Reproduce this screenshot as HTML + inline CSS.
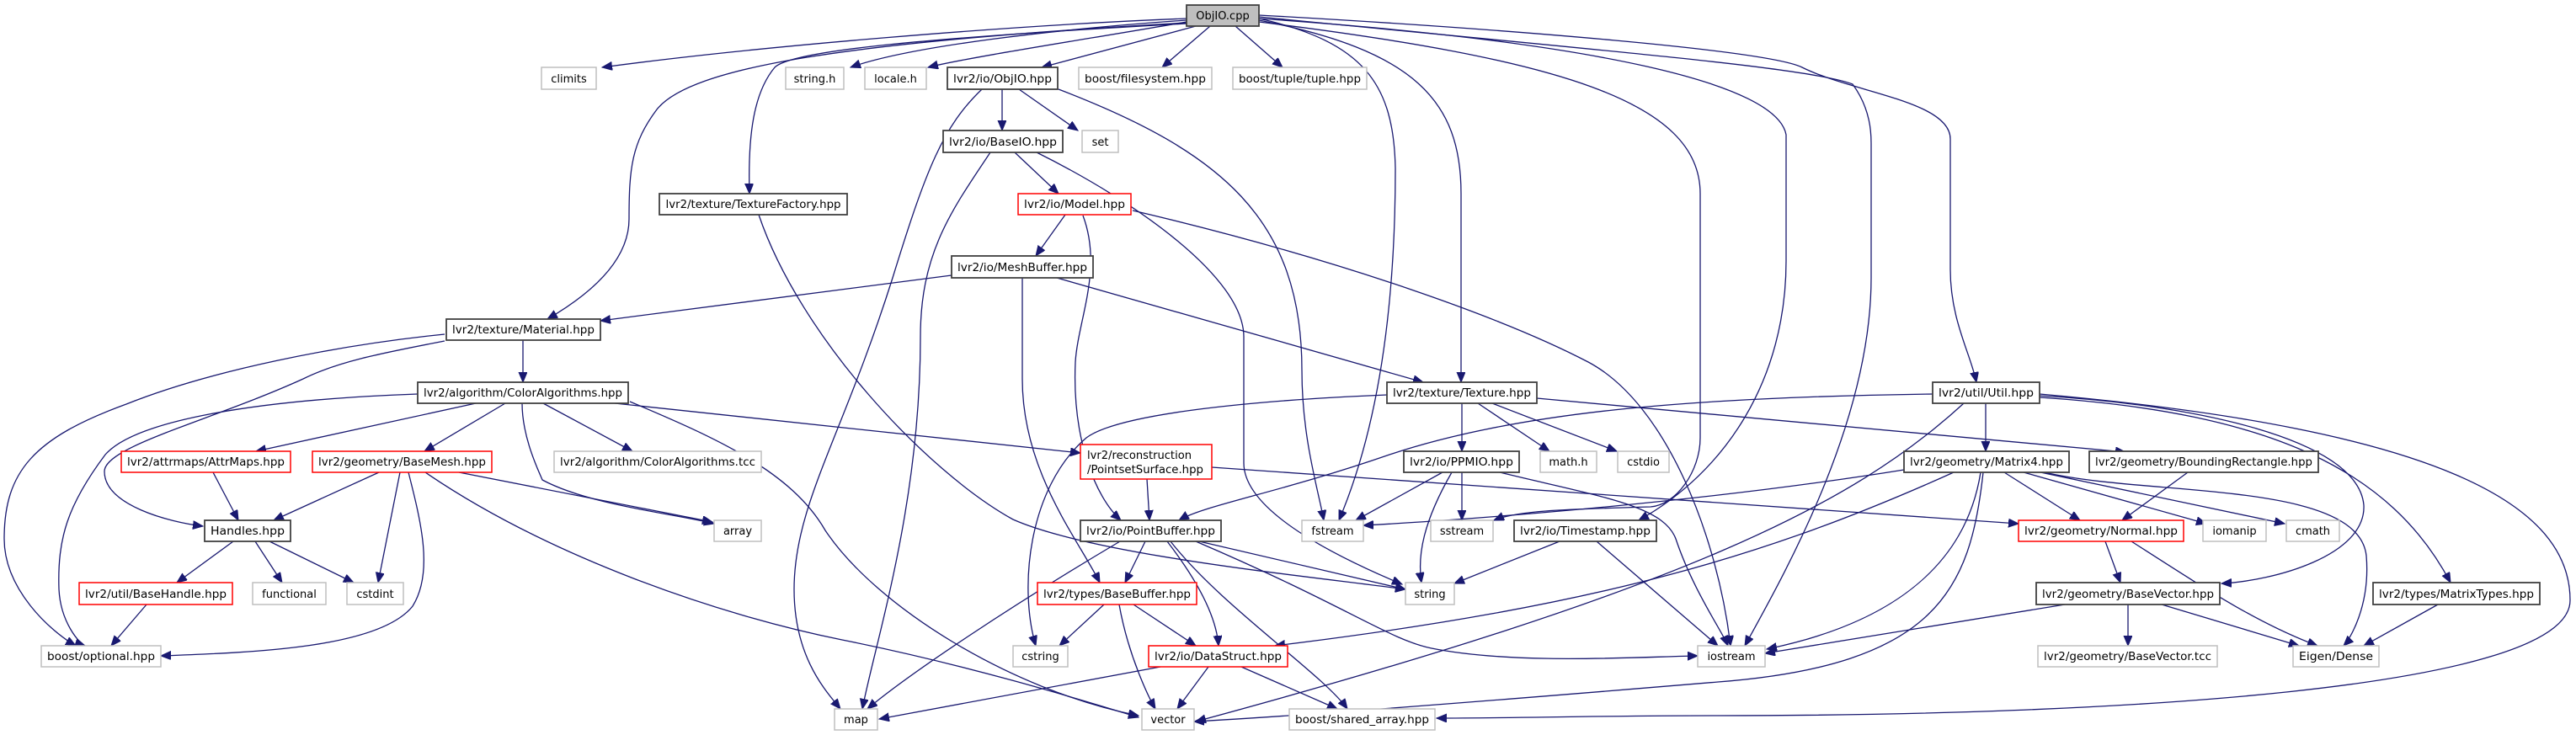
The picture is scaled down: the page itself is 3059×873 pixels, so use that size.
<!DOCTYPE html>
<html><head><meta charset="utf-8"><style>
html,body{margin:0;padding:0;background:#fff;}
svg{display:block;}
text{font-family:"DejaVu Sans","Liberation Sans",sans-serif;font-size:13px;fill:#000;}
.e{fill:none;stroke:#191970;stroke-width:1.3;marker-end:url(#a);}
.g{fill:#fff;stroke:#bfbfbf;stroke-width:1.5;}
.b{fill:#fff;stroke:#404040;stroke-width:1.8;}
.r{fill:#fff;stroke:#ff0000;stroke-width:1.5;}
</style></head><body>
<svg width="3059" height="873" viewBox="0 0 3059 873" xmlns="http://www.w3.org/2000/svg">
<defs><marker id="a" markerUnits="userSpaceOnUse" markerWidth="14" markerHeight="12" refX="12" refY="5" orient="auto"><path d="M0,0 L12,5 L0,10 z" fill="#191970" stroke="#191970"/></marker></defs>
<g>
<path class="e" d="M1409,22 C1200,30 900,55 715,80"/>
<path class="e" d="M1409,24 C1250,35 1080,55 1010,80"/>
<path class="e" d="M1409,26 C1300,45 1150,68 1102,80"/>
<path class="e" d="M1420,31 L1237,80"/>
<path class="e" d="M1437,31 L1380,80"/>
<path class="e" d="M1467,31 L1523,80"/>
<path class="e" d="M1409,28 C1100,45 940,60 920,80 C895,110 888,160 890,230"/>
<path class="e" d="M1409,27 C1000,50 820,80 780,130 C750,170 747,200 747,260 C747,310 700,350 650,379"/>
<path class="e" d="M1495,22 C1620,50 1655,100 1657,200 C1657,350 1640,500 1590,618"/>
<path class="e" d="M1495,24 C1680,60 1735,120 1735,230 L1735,454"/>
<path class="e" d="M1495,26 C1850,70 2019,120 2019,230 L2019,520 C2019,560 1990,600 1960,602 C1850,605 1800,607 1774,618"/>
<path class="e" d="M1495,22 C1900,50 2110,100 2121,160 L2121,310 C2121,450 2050,560 1946,618"/>
<path class="e" d="M1495,20 C1900,60 2150,80 2200,100 C2222,130 2222,160 2222,170 L2222,330 C2222,500 2120,680 2072,767"/>
<path class="e" d="M1495,18 C1800,35 2100,60 2140,80 C2200,110 2316,120 2316,165 L2316,320 C2316,380 2340,420 2347,454"/>
<path class="e" d="M1190,106 L1190,155"/>
<path class="e" d="M1210,106 L1280,155"/>
<path class="e" d="M1166,106 C1120,150 1100,200 1060,330 C1000,520 943,600 943,700 C943,780 980,820 998,842"/>
<path class="e" d="M1257,106 C1450,180 1546,260 1546,440 C1546,520 1565,580 1572,618"/>
<path class="e" d="M1205,181 L1257,230"/>
<path class="e" d="M1176,181 C1130,250 1093,300 1093,400 C1093,600 1040,760 1024,842"/>
<path class="e" d="M1231,181 C1350,240 1477,330 1477,400 L1477,550 C1477,600 1560,650 1665,694"/>
<path class="e" d="M901,255 C950,400 1100,560 1203,617 C1300,660 1560,685 1669,700"/>
<path class="e" d="M1265,255 L1230,304"/>
<path class="e" d="M1286,256 C1310,320 1280,380 1277,430 C1273,520 1300,590 1331,618"/>
<path class="e" d="M1345,250 C1600,310 1790,380 1886,430 C1980,480 2040,640 2055,767"/>
<path class="e" d="M1130,327 L713,381"/>
<path class="e" d="M1255,330 L1690,454"/>
<path class="e" d="M1214,330 L1214,450 C1214,560 1280,640 1306,692"/>
<path class="e" d="M621,404 L621,454"/>
<path class="e" d="M528,405 C450,420 400,430 360,450 C250,500 124,530 124,560 C124,600 200,620 241,625"/>
<path class="e" d="M528,397 C400,410 250,440 150,480 C40,520 5,560 5,640 C5,700 60,750 90,767"/>
<path class="e" d="M565,479 L304,536"/>
<path class="e" d="M600,479 L504,536"/>
<path class="e" d="M645,479 L751,536"/>
<path class="e" d="M620,479 C620,520 640,560 644,570 C700,600 800,610 848,622"/>
<path class="e" d="M496,468 C300,475 160,500 125,540 C80,600 68,640 70,700 C72,740 95,765 101,767"/>
<path class="e" d="M748,477 C850,520 940,560 980,630 C1040,720 1200,820 1352,850"/>
<path class="e" d="M730,479 L1283,538"/>
<path class="e" d="M253,561 L283,618"/>
<path class="e" d="M450,561 L325,618"/>
<path class="e" d="M475,561 L449,692"/>
<path class="e" d="M485,561 C500,620 515,680 490,720 C450,770 300,775 191,779"/>
<path class="e" d="M545,561 L846,620"/>
<path class="e" d="M505,561 C650,660 850,730 1000,760 C1150,790 1280,830 1352,852"/>
<path class="e" d="M277,643 L210,692"/>
<path class="e" d="M303,643 L335,692"/>
<path class="e" d="M320,643 L420,692"/>
<path class="e" d="M174,718 L132,767"/>
<path class="e" d="M1736,479 L1736,536"/>
<path class="e" d="M1755,479 L1840,536"/>
<path class="e" d="M1772,479 L1920,536"/>
<path class="e" d="M1647,469 C1500,475 1330,490 1290,520 C1220,580 1210,700 1230,767"/>
<path class="e" d="M1825,473 L2524,537"/>
<path class="e" d="M1362,569 L1365,618"/>
<path class="e" d="M1439,555 L2397,622"/>
<path class="e" d="M1713,561 L1610,618"/>
<path class="e" d="M1724,561 C1690,620 1683,660 1688,692"/>
<path class="e" d="M1736,561 L1736,618"/>
<path class="e" d="M1781,561 C1900,590 1975,600 1990,640 C2010,700 2045,750 2052,767"/>
<path class="e" d="M1852,643 L1727,693"/>
<path class="e" d="M1896,643 L2040,767"/>
<path class="e" d="M1330,643 C1200,720 1080,800 1030,842"/>
<path class="e" d="M1360,643 L1336,692"/>
<path class="e" d="M1386,643 C1430,700 1445,740 1447,767"/>
<path class="e" d="M1390,643 C1450,720 1570,800 1600,842"/>
<path class="e" d="M1424,643 L1669,700"/>
<path class="e" d="M1420,643 C1600,720 1650,760 1700,770 C1800,790 1950,780 2016,779"/>
<path class="e" d="M1311,718 L1258,767"/>
<path class="e" d="M1329,718 C1340,780 1365,830 1372,842"/>
<path class="e" d="M1346,718 L1420,767"/>
<path class="e" d="M1378,792 L1044,854"/>
<path class="e" d="M1435,792 L1398,842"/>
<path class="e" d="M1474,792 L1588,842"/>
<path class="e" d="M2358,479 L2358,536"/>
<path class="e" d="M2295,468 C2000,472 1800,490 1650,540 C1520,585 1430,600 1400,618"/>
<path class="e" d="M2332,479 C2200,600 2000,700 1420,857"/>
<path class="e" d="M2422,470 C2600,480 2800,520 2807,600 C2810,660 2700,690 2638,693"/>
<path class="e" d="M2422,472 C2700,490 2840,560 2910,692"/>
<path class="e" d="M2422,468 C2900,510 3052,600 3052,713 C3052,820 2500,850 2040,850 C1900,850 1800,853 1706,853"/>
<path class="e" d="M2380,561 L2470,618"/>
<path class="e" d="M2403,561 L2620,622"/>
<path class="e" d="M2423,561 L2713,622"/>
<path class="e" d="M2428,561 C2550,590 2800,570 2810,660 C2815,720 2790,760 2783,767"/>
<path class="e" d="M2352,561 C2330,700 2200,750 2098,771"/>
<path class="e" d="M2355,561 C2340,700 2300,790 2040,810 C1800,830 1550,850 1418,857"/>
<path class="e" d="M2261,558 C2000,600 1700,620 1619,624"/>
<path class="e" d="M2320,561 C2100,660 1900,720 1514,767"/>
<path class="e" d="M2598,561 L2520,618"/>
<path class="e" d="M2500,643 L2518,692"/>
<path class="e" d="M2531,643 C2620,700 2680,740 2752,767"/>
<path class="e" d="M2452,718 L2096,776"/>
<path class="e" d="M2527,718 L2527,767"/>
<path class="e" d="M2567,718 L2730,767"/>
<path class="e" d="M2895,718 L2807,767"/>
</g>
<g>
<rect x="1409" y="6" width="86" height="25" fill="#bfbfbf" stroke="#404040" stroke-width="1.8"/><text x="1452" y="23" text-anchor="middle">ObjIO.cpp</text>
<rect class="g" x="643" y="80" width="65" height="26"/><text x="675.5" y="98" text-anchor="middle">climits</text>
<rect class="g" x="933" y="80" width="69" height="26"/><text x="967.5" y="98" text-anchor="middle">string.h</text>
<rect class="g" x="1027" y="80" width="73" height="26"/><text x="1063.5" y="98" text-anchor="middle">locale.h</text>
<rect class="b" x="1125" y="80" width="131" height="26"/><text x="1190.5" y="98" text-anchor="middle" textLength="117" lengthAdjust="spacingAndGlyphs">lvr2/io/ObjIO.hpp</text>
<rect class="g" x="1281" y="80" width="158" height="26"/><text x="1360" y="98" text-anchor="middle" textLength="144" lengthAdjust="spacingAndGlyphs">boost/filesystem.hpp</text>
<rect class="g" x="1464" y="80" width="159" height="26"/><text x="1543.5" y="98" text-anchor="middle" textLength="145" lengthAdjust="spacingAndGlyphs">boost/tuple/tuple.hpp</text>
<rect class="b" x="1120" y="155" width="142" height="26"/><text x="1191" y="173" text-anchor="middle" textLength="128" lengthAdjust="spacingAndGlyphs">lvr2/io/BaseIO.hpp</text>
<rect class="g" x="1285" y="155" width="43" height="26"/><text x="1306.5" y="173" text-anchor="middle">set</text>
<rect class="b" x="783" y="230" width="223" height="25"/><text x="894.5" y="247" text-anchor="middle" textLength="208" lengthAdjust="spacingAndGlyphs">lvr2/texture/TextureFactory.hpp</text>
<rect class="r" x="1209" y="230" width="134" height="25"/><text x="1276" y="247" text-anchor="middle" textLength="120" lengthAdjust="spacingAndGlyphs">lvr2/io/Model.hpp</text>
<rect class="b" x="1130" y="304" width="168" height="26"/><text x="1214" y="322" text-anchor="middle" textLength="154" lengthAdjust="spacingAndGlyphs">lvr2/io/MeshBuffer.hpp</text>
<rect class="b" x="530" y="379" width="183" height="25"/><text x="621.5" y="396" text-anchor="middle" textLength="169" lengthAdjust="spacingAndGlyphs">lvr2/texture/Material.hpp</text>
<rect class="b" x="496" y="454" width="250" height="25"/><text x="621" y="471" text-anchor="middle" textLength="236" lengthAdjust="spacingAndGlyphs">lvr2/algorithm/ColorAlgorithms.hpp</text>
<rect class="b" x="1647" y="454" width="178" height="25"/><text x="1736" y="471" text-anchor="middle" textLength="164" lengthAdjust="spacingAndGlyphs">lvr2/texture/Texture.hpp</text>
<rect class="b" x="2295" y="454" width="127" height="25"/><text x="2358.5" y="471" text-anchor="middle" textLength="113" lengthAdjust="spacingAndGlyphs">lvr2/util/Util.hpp</text>
<rect class="r" x="144" y="536" width="201" height="25"/><text x="244.5" y="553" text-anchor="middle" textLength="187" lengthAdjust="spacingAndGlyphs">lvr2/attrmaps/AttrMaps.hpp</text>
<rect class="r" x="371" y="536" width="213" height="25"/><text x="477.5" y="553" text-anchor="middle" textLength="199" lengthAdjust="spacingAndGlyphs">lvr2/geometry/BaseMesh.hpp</text>
<rect class="g" x="658" y="536" width="246" height="25"/><text x="781" y="553" text-anchor="middle" textLength="232" lengthAdjust="spacingAndGlyphs">lvr2/algorithm/ColorAlgorithms.tcc</text>
<rect class="r" x="1283" y="528" width="156" height="41"/><text x="1291" y="545" textLength="124" lengthAdjust="spacingAndGlyphs">lvr2/reconstruction</text><text x="1291" y="562" textLength="138" lengthAdjust="spacingAndGlyphs">/PointsetSurface.hpp</text>
<rect class="b" x="1667" y="536" width="137" height="25"/><text x="1735.5" y="553" text-anchor="middle" textLength="123" lengthAdjust="spacingAndGlyphs">lvr2/io/PPMIO.hpp</text>
<rect class="g" x="1829" y="536" width="67" height="25"/><text x="1862.5" y="553" text-anchor="middle">math.h</text>
<rect class="g" x="1921" y="536" width="61" height="25"/><text x="1951.5" y="553" text-anchor="middle">cstdio</text>
<rect class="b" x="2261" y="536" width="196" height="25"/><text x="2359" y="553" text-anchor="middle" textLength="182" lengthAdjust="spacingAndGlyphs">lvr2/geometry/Matrix4.hpp</text>
<rect class="b" x="2481" y="536" width="272" height="25"/><text x="2617" y="553" text-anchor="middle" textLength="258" lengthAdjust="spacingAndGlyphs">lvr2/geometry/BoundingRectangle.hpp</text>
<rect class="b" x="243" y="618" width="102" height="25"/><text x="294" y="635" text-anchor="middle" textLength="88" lengthAdjust="spacingAndGlyphs">Handles.hpp</text>
<rect class="g" x="848" y="618" width="56" height="25"/><text x="876" y="635" text-anchor="middle">array</text>
<rect class="b" x="1283" y="618" width="167" height="25"/><text x="1366.5" y="635" text-anchor="middle" textLength="153" lengthAdjust="spacingAndGlyphs">lvr2/io/PointBuffer.hpp</text>
<rect class="g" x="1546" y="618" width="73" height="25"/><text x="1582.5" y="635" text-anchor="middle">fstream</text>
<rect class="g" x="1699" y="618" width="74" height="25"/><text x="1736" y="635" text-anchor="middle">sstream</text>
<rect class="b" x="1798" y="618" width="169" height="25"/><text x="1882.5" y="635" text-anchor="middle" textLength="155" lengthAdjust="spacingAndGlyphs">lvr2/io/Timestamp.hpp</text>
<rect class="r" x="2397" y="618" width="196" height="25"/><text x="2495" y="635" text-anchor="middle" textLength="182" lengthAdjust="spacingAndGlyphs">lvr2/geometry/Normal.hpp</text>
<rect class="g" x="2616" y="618" width="75" height="25"/><text x="2653.5" y="635" text-anchor="middle">iomanip</text>
<rect class="g" x="2715" y="618" width="63" height="25"/><text x="2746.5" y="635" text-anchor="middle">cmath</text>
<rect class="r" x="94" y="692" width="182" height="26"/><text x="185" y="710" text-anchor="middle" textLength="168" lengthAdjust="spacingAndGlyphs">lvr2/util/BaseHandle.hpp</text>
<rect class="g" x="300" y="692" width="87" height="26"/><text x="343.5" y="710" text-anchor="middle">functional</text>
<rect class="g" x="412" y="692" width="67" height="26"/><text x="445.5" y="710" text-anchor="middle">cstdint</text>
<rect class="r" x="1232" y="692" width="189" height="26"/><text x="1326.5" y="710" text-anchor="middle" textLength="175" lengthAdjust="spacingAndGlyphs">lvr2/types/BaseBuffer.hpp</text>
<rect class="g" x="1669" y="692" width="58" height="26"/><text x="1698" y="710" text-anchor="middle">string</text>
<rect class="b" x="2418" y="692" width="218" height="26"/><text x="2527" y="710" text-anchor="middle" textLength="204" lengthAdjust="spacingAndGlyphs">lvr2/geometry/BaseVector.hpp</text>
<rect class="b" x="2818" y="692" width="198" height="26"/><text x="2917" y="710" text-anchor="middle" textLength="184" lengthAdjust="spacingAndGlyphs">lvr2/types/MatrixTypes.hpp</text>
<rect class="g" x="49" y="767" width="142" height="25"/><text x="120" y="784" text-anchor="middle" textLength="128" lengthAdjust="spacingAndGlyphs">boost/optional.hpp</text>
<rect class="g" x="1203" y="767" width="65" height="25"/><text x="1235.5" y="784" text-anchor="middle">cstring</text>
<rect class="r" x="1364" y="767" width="165" height="25"/><text x="1446.5" y="784" text-anchor="middle" textLength="151" lengthAdjust="spacingAndGlyphs">lvr2/io/DataStruct.hpp</text>
<rect class="g" x="2016" y="767" width="80" height="25"/><text x="2056" y="784" text-anchor="middle">iostream</text>
<rect class="g" x="2420" y="767" width="213" height="25"/><text x="2526.5" y="784" text-anchor="middle" textLength="199" lengthAdjust="spacingAndGlyphs">lvr2/geometry/BaseVector.tcc</text>
<rect class="g" x="2723" y="767" width="102" height="25"/><text x="2774" y="784" text-anchor="middle" textLength="88" lengthAdjust="spacingAndGlyphs">Eigen/Dense</text>
<rect class="g" x="991" y="842" width="51" height="25"/><text x="1016.5" y="859" text-anchor="middle">map</text>
<rect class="g" x="1356" y="842" width="62" height="25"/><text x="1387" y="859" text-anchor="middle">vector</text>
<rect class="g" x="1531" y="842" width="173" height="25"/><text x="1617.5" y="859" text-anchor="middle" textLength="159" lengthAdjust="spacingAndGlyphs">boost/shared_array.hpp</text>
</g>
</svg>
</body></html>
